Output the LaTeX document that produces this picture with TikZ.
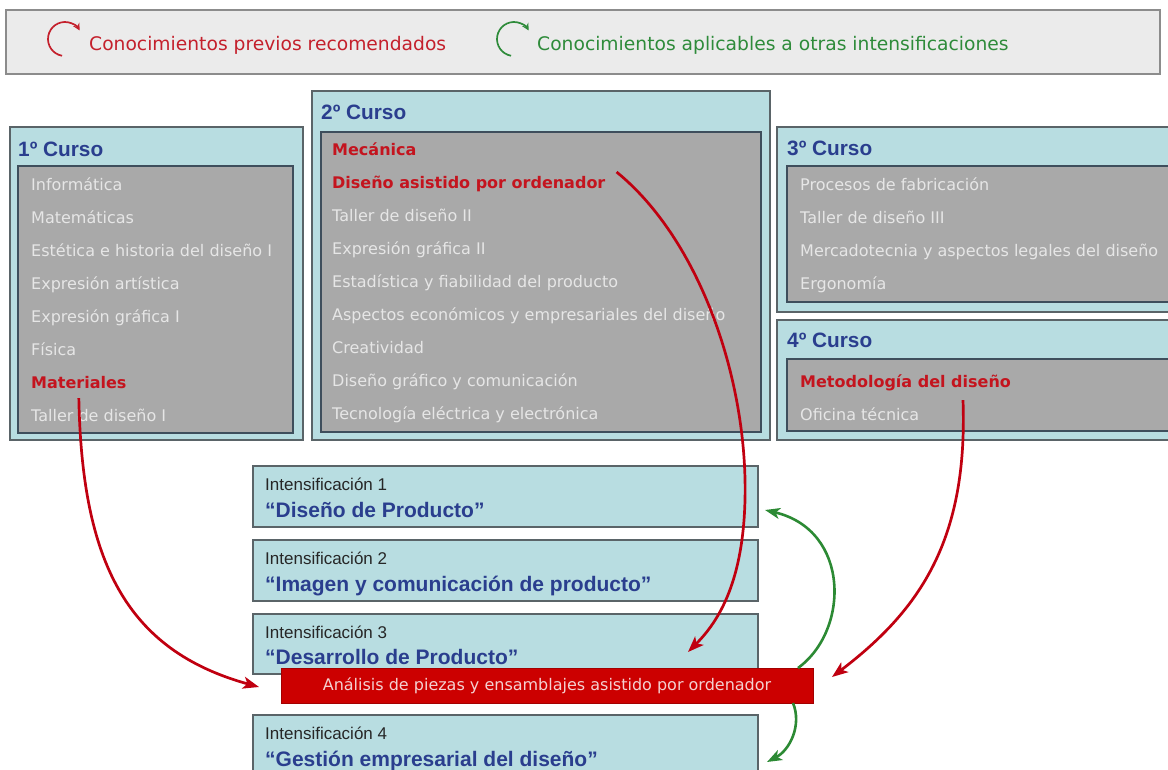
\documentclass[tikz,border=0pt]{standalone}
\usepackage{fontspec}
\setmainfont{DejaVu Sans}
\newfontfamily\arialf{Liberation Sans}
\usetikzlibrary{arrows.meta,calc}
\definecolor{legfill}{HTML}{EBEBEB}
\definecolor{legdraw}{HTML}{8C8C8C}
\definecolor{cyanfill}{HTML}{B8DDE1}
\definecolor{boxdraw}{HTML}{5A6468}
\definecolor{greyfill}{HTML}{A9A9A9}
\definecolor{innerdraw}{HTML}{3E4E5C}
\definecolor{itemcol}{HTML}{E6E6E6}
\definecolor{redtxt}{HTML}{C4141E}
\definecolor{bluetxt}{HTML}{2A3E8E}
\definecolor{barred}{HTML}{CC0000}
\definecolor{bartxt}{HTML}{F4D0D0}
\definecolor{arrred}{HTML}{C00010}
\definecolor{arrgreen}{HTML}{2C8A34}
\definecolor{legred}{HTML}{C4202C}
\definecolor{leggreen}{HTML}{2E8B3A}
\newcommand\itfont{\fontsize{16}{19}\selectfont}
\newcommand\legfont{\fontsize{18.7}{22}\selectfont}
\newcommand\cursofont{\arialf\bfseries\fontsize{20.8}{24}\selectfont}
\newcommand\intlabfont{\arialf\fontsize{17}{20}\selectfont}
\newcommand\inttitfont{\arialf\bfseries\fontsize{21}{24}\selectfont}
\tikzset{
  legbox/.style={draw=legdraw, fill=legfill, line width=1.5pt, anchor=north west, inner sep=0, outer sep=0},
  outerbox/.style={draw=boxdraw, fill=cyanfill, line width=1.5pt, anchor=north west, inner sep=0, outer sep=0},
  innerbox/.style={draw=innerdraw, fill=greyfill, line width=1.5pt, anchor=north west, inner sep=0, outer sep=0},
  intbox/.style={draw=boxdraw, fill=cyanfill, line width=1.5pt, anchor=north west, inner sep=0, outer sep=0, minimum width=505pt},
  itm/.style={font=\itfont, text=itemcol, anchor=west, inner sep=0, text height=11.7pt, text depth=0pt},
  ritm/.style={itm, font=\itfont\bfseries, text=redtxt},
  ttl/.style={font=\cursofont, text=bluetxt, anchor=west, inner sep=0, text height=14.7pt, text depth=0pt},
  ilab/.style={font=\intlabfont, text=black!85, anchor=west, inner sep=0, text height=12.2pt, text depth=0pt},
  ititle/.style={font=\inttitfont, text=bluetxt, anchor=west, inner sep=0, text height=15pt, text depth=0pt},
  legtxt/.style={font=\legfont, anchor=west, inner sep=0, text height=13.5pt, text depth=0pt},
  redarr/.style={draw=arrred, line width=2.7pt, -{Stealth[length=16pt,width=12pt,inset=4pt]}},
  greenarr/.style={draw=arrgreen, line width=2.6pt, -{Stealth[length=15pt,width=11pt,inset=4pt]}},
  iconarr/.style={line width=1.7pt, -{Stealth[length=7pt,width=7pt]}}
}
\begin{document}
\begin{tikzpicture}[x=1pt,y=-1pt]
\useasboundingbox (0,0) rectangle (1168,769);
% legend
\node[legbox, minimum width=1154pt, minimum height=64pt] (leg) at (6,10) {};
\coordinate (ic1) at (65,39);
\coordinate (ic2) at (514,39);
\draw[iconarr, draw=legred] ($(ic1)+(100:17)$) arc[start angle=100, end angle=330, radius=17];
\draw[iconarr, draw=leggreen] ($(ic2)+(100:17)$) arc[start angle=100, end angle=330, radius=17];
\node[legtxt, text=legred] (lt1) at (89,44) {Conocimientos previos recomendados};
\node[legtxt, text=leggreen] (lt2) at (537,44) {Conocimientos aplicables a otras intensificaciones};
% 1 curso
\node[outerbox, minimum width=293pt, minimum height=313pt] (c1) at (10,127) {};
\node[innerbox, minimum width=275pt, minimum height=267pt] (c1in) at (18,166) {};
\node[ttl] (t1) at (18,149) {1º Curso};
\node[itm] (a1) at (31,185) {Informática};
\node[itm] (a2) at (31,218) {Matemáticas};
\node[itm] (a3) at (31,251) {Estética e historia del diseño I};
\node[itm] (a4) at (31,284) {Expresión artística};
\node[itm] (a5) at (31,317) {Expresión gráfica I};
\node[itm] (a6) at (31,350) {Física};
\node[ritm] (mat) at (31,383) {Materiales};
\node[itm] (a8) at (31,416) {Taller de diseño I};
% 2 curso
\node[outerbox, minimum width=458pt, minimum height=349pt] (c2) at (312,91) {};
\node[innerbox, minimum width=440pt, minimum height=300pt] (c2in) at (321,132) {};
\node[ttl] (t2) at (321,112) {2º Curso};
\node[ritm] (mec) at (332,150) {Mecánica};
\node[ritm] (dao) at (332,183) {Diseño asistido por ordenador};
\node[itm] (b3) at (332,216) {Taller de diseño II};
\node[itm] (b4) at (332,249) {Expresión gráfica II};
\node[itm] (b5) at (332,282) {Estadística y fiabilidad del producto};
\node[itm] (b6) at (332,315) {Aspectos económicos y empresariales del diseño};
\node[itm] (b7) at (332,348) {Creatividad};
\node[itm] (b8) at (332,381) {Diseño gráfico y comunicación};
\node[itm] (b9) at (332,414) {Tecnología eléctrica y electrónica};
% 3 curso
\node[outerbox, minimum width=400pt, minimum height=185pt] (c3) at (777,127) {};
\node[innerbox, minimum width=390pt, minimum height=136pt] (c3in) at (787,166) {};
\node[ttl] (t3) at (787,148) {3º Curso};
\node[itm] (d1) at (800,185) {Procesos de fabricación};
\node[itm] (d2) at (800,218) {Taller de diseño III};
\node[itm] (d3) at (800,251) {Mercadotecnia y aspectos legales del diseño};
\node[itm] (d4) at (800,284) {Ergonomía};
% 4 curso
\node[outerbox, minimum width=400pt, minimum height=120pt] (c4) at (777,320) {};
\node[innerbox, minimum width=390pt, minimum height=72pt] (c4in) at (787,359) {};
\node[ttl] (t4) at (787,340) {4º Curso};
\node[ritm] (met) at (800,382) {Metodología del diseño};
\node[itm] (e2) at (800,415) {Oficina técnica};
% intensificaciones
\node[intbox, minimum height=61pt] (i1) at (253,466) {};
\node[ilab] (l1) at (265,484) {Intensificación 1};
\node[ititle] (n1) at (265,510) {“Diseño de Producto”};
\node[intbox, minimum height=61pt] (i2) at (253,540) {};
\node[ilab] (l2) at (265,558) {Intensificación 2};
\node[ititle] (n2) at (265,584) {“Imagen y comunicación de producto”};
\node[intbox, minimum height=60pt] (i3) at (253,614) {};
\node[ilab] (l3) at (265,632) {Intensificación 3};
\node[ititle] (n3) at (265,657) {“Desarrollo de Producto”};
\node[intbox, minimum height=61pt] (i4) at (253,715) {};
\node[ilab] (l4) at (265,733) {Intensificación 4};
\node[ititle] (n4) at (265,759) {“Gestión empresarial del diseño”};
% red bar
\node[draw=barred!80!black, fill=barred, line width=0.8pt, anchor=north west, inner sep=0, outer sep=0,
      minimum width=532pt, minimum height=35pt, font=\itfont, text=bartxt] (bar) at (281,668)
      {Análisis de piezas y ensamblajes asistido por ordenador};
% arrows
\coordinate (s1) at ($(mat.south)+(0,9)$);
\coordinate (e1) at ($(bar.west)+(-22,1.5)$);
\draw[redarr] (s1) .. controls (82,560) and (125,650) .. (e1);
\coordinate (s2) at ($(dao.east)+(11,-11)$);
\coordinate (m2) at (745,500);
\coordinate (e2) at ($(bar.north)+(141,-16)$);
\draw[redarr] (s2) .. controls (700,240) and (748,380) .. (m2) .. controls (743,580) and (720,620) .. (e2);
\coordinate (s3) at ($(met.south west)+(163,12)$);
\coordinate (e3) at ($(bar.east)+(19,-8.5)$);
\draw[redarr] (s3) .. controls (968,540) and (920,610) .. (e3);
\coordinate (g1s) at ($(bar.north east)+(-15,0)$);
\coordinate (g1e) at ($(i1.east)+(7,13.5)$);
\draw[greenarr] (g1s) .. controls (850,630) and (850,530) .. (g1e);
\coordinate (g2s) at ($(bar.south east)+(-20,0)$);
\coordinate (g2e) at ($(i4.east)+(9,16.5)$);
\draw[greenarr] (g2s) .. controls (802,725) and (790,750) .. (g2e);
\end{tikzpicture}
\end{document}
